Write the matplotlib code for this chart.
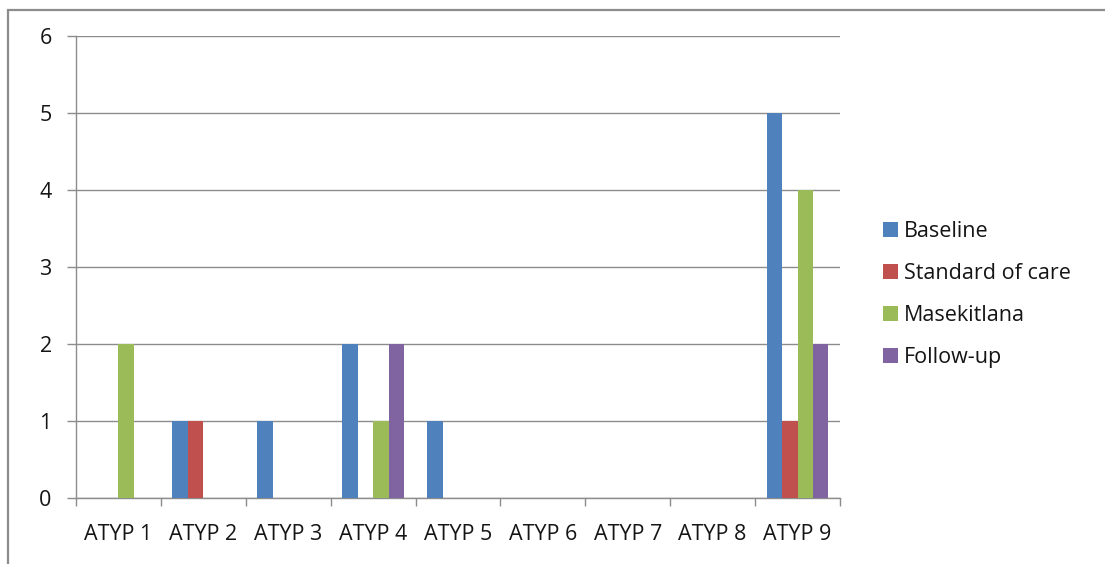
import numpy as np
import matplotlib.pyplot as plt
from matplotlib.patches import Rectangle

categories = ["ATYP 1", "ATYP 2", "ATYP 3", "ATYP 4", "ATYP 5",
              "ATYP 6", "ATYP 7", "ATYP 8", "ATYP 9"]
baseline = [0, 1, 1, 2, 1, 0, 0, 0, 5]
standard_of_care = [0, 1, 0, 0, 0, 0, 0, 0, 1]
masekitlana = [2, 0, 0, 1, 0, 0, 0, 0, 4]
follow_up = [0, 0, 0, 2, 0, 0, 0, 0, 2]

series = [
    ("Baseline", baseline, "#4F81BD"),
    ("Standard of care", standard_of_care, "#C0504D"),
    ("Masekitlana", masekitlana, "#9BBB59"),
    ("Follow-up", follow_up, "#8064A2"),
]

plt.rcParams["font.family"] = ["Open Sans", "DejaVu Sans"]

W, H = 1105, 564
fig = plt.figure(figsize=(W / 100, H / 100), dpi=100)

# outer chart frame (cut at right and bottom like the screenshot)
fig.add_artist(Rectangle((8 / W, -0.1), 1.2, 1 - 10 / H + 0.1,
                         transform=fig.transFigure, fill=False,
                         edgecolor="#8c8c8c", linewidth=1.6))

ax = fig.add_axes([76 / W, (H - 498) / H, (840 - 76) / W, (498 - 36) / H])

x = np.arange(len(categories))
n = len(series)
bar_w = 1 / (n + 1.5)
for i, (name, vals, color) in enumerate(series):
    offset = (i - (n - 1) / 2) * bar_w
    ax.bar(x + offset, vals, width=bar_w, color=color, label=name, linewidth=0, zorder=3)

grid_c = "#8c8c8c"
txt_c = "#151515"
fs = 15.5
ax.set_xlim(-0.5, len(categories) - 0.5)
ax.set_ylim(0, 6)
ax.set_yticks(range(0, 7))
ax.yaxis.grid(True, color=grid_c, linewidth=1.0, zorder=0)

ax.set_xticks(np.arange(-0.5, len(categories)), labels=[""] * (len(categories) + 1))
ax.set_xticks(x, labels=categories, minor=True)
ax.tick_params(axis="x", which="major", length=6, color=grid_c, width=1)
ax.tick_params(axis="x", which="minor", length=0, pad=19, labelsize=fs, labelcolor=txt_c)
ax.tick_params(axis="y", length=6.5, color=grid_c, width=1, pad=11, labelsize=fs,
               labelcolor=txt_c)

for side in ["top", "right"]:
    ax.spines[side].set_visible(False)
for side in ["left", "bottom"]:
    ax.spines[side].set_color(grid_c)
    ax.spines[side].set_linewidth(1.0)

leg = fig.legend(loc="upper left", bbox_to_anchor=(874 / W, 1 - 212 / H),
                 frameon=False, fontsize=fs, handlelength=0.7, handleheight=0.7,
                 handletextpad=0.3, labelspacing=0.98, borderaxespad=0)
for t in leg.get_texts():
    t.set_color(txt_c)

fig.savefig("out.png", dpi=100)
